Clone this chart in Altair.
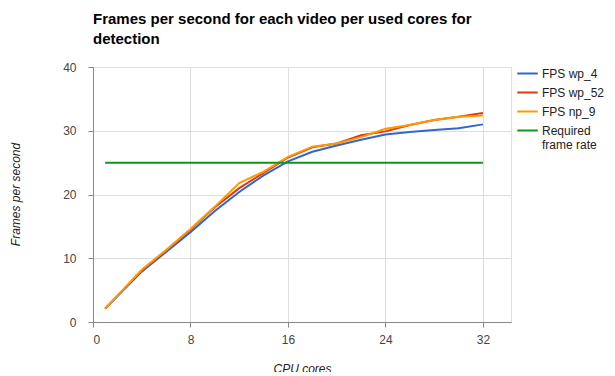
import altair as alt
import pandas as pd

cores = [1, 4, 6, 8, 10, 12, 14, 16, 18, 20, 22, 24, 26, 28, 30, 32]
fps_wp4 = [2.1, 7.9, 11.0, 14.1, 17.4, 20.4, 23.0, 25.2, 26.7, 27.7, 28.6, 29.4, 29.8, 30.1, 30.4, 31.0]
fps_wp52 = [2.1, 8.1, 11.2, 14.5, 18.0, 21.0, 23.4, 25.8, 27.4, 28.0, 29.3, 29.9, 30.9, 31.7, 32.2, 32.8]
fps_np9 = [2.1, 8.2, 11.3, 14.6, 18.1, 21.8, 23.6, 25.9, 27.5, 28.0, 29.0, 30.3, 30.9, 31.7, 32.2, 32.4]
required_x = [1, 32]
required_y = [25, 25]

series = ["FPS wp_4", "FPS wp_52", "FPS np_9", "Required frame rate"]
colors = ["#3366cc", "#dc3912", "#ff9900", "#109618"]

rows = []
for name, vals in [(series[0], fps_wp4), (series[1], fps_wp52), (series[2], fps_np9)]:
    for c, v in zip(cores, vals):
        rows.append({"cores": c, "fps": v, "series": name})
for c, v in zip(required_x, required_y):
    rows.append({"cores": c, "fps": v, "series": series[3]})
df = pd.DataFrame(rows)

font = "Liberation Sans"

chart = alt.Chart(df).mark_line(strokeWidth=2).encode(
    x=alt.X("cores:Q", scale=alt.Scale(domain=[0, 34.3], nice=False, zero=True),
            axis=alt.Axis(values=[0, 8, 16, 24, 32], title="CPU cores", titleFontStyle="italic",
                          titleFontWeight="normal", titleFont=font, titleFontSize=12,
                          titleColor="#222", titleY=41, titleX=209,
                          labelFont=font, labelFontSize=12, labelColor="#444444", labelPadding=7)),
    y=alt.Y("fps:Q", scale=alt.Scale(domain=[0, 40], nice=False),
            axis=alt.Axis(values=[0, 10, 20, 30, 40], title="Frames per second", titleFontStyle="italic",
                          titleFontWeight="normal", titleFont=font, titleFontSize=12,
                          titleColor="#222", titleX=-78, titleY=127, titleAngle=-90,
                          titleBaseline="middle", titleAlign="center",
                          labelFont=font, labelFontSize=12, labelColor="#444444", labelPadding=12)),
    color=alt.Color("series:N", sort=series,
                    scale=alt.Scale(domain=series, range=colors),
                    legend=alt.Legend(title=None, orient="none", legendX=423, legendY=-5,
                                      symbolType="stroke", symbolStrokeWidth=2, symbolSize=420,
                                      labelFont=font, labelFontSize=12, labelColor="#222",
                                      rowPadding=1, labelOffset=3, labelLimit=200,
                                      labelExpr="datum.label == 'Required frame rate' ? ['Required', 'frame rate'] : datum.label")),
    detail="series:N",
).properties(
    width=418,
    height=255,
    title=alt.TitleParams(["Frames per second for each video per used cores for", "detection"],
                          anchor="start", frame="group", font=font, fontSize=15, fontWeight="bold",
                          color="#000", lineHeight=20, offset=14),
    autosize=alt.AutoSizeParams(type="none"),
    padding={"left": 85, "top": 59, "right": 96, "bottom": 50},
).configure_axis(
    gridColor="#dddddd",
    gridWidth=1,
    domainColor="#333333",
    ticks=False,
).configure_axisX(
    gridColor="#cccccc",
).configure_view(
    stroke=None,
).configure(
    background="white",
)

chart.save("out.html", embed_options={"renderer": "svg", "actions": False})
